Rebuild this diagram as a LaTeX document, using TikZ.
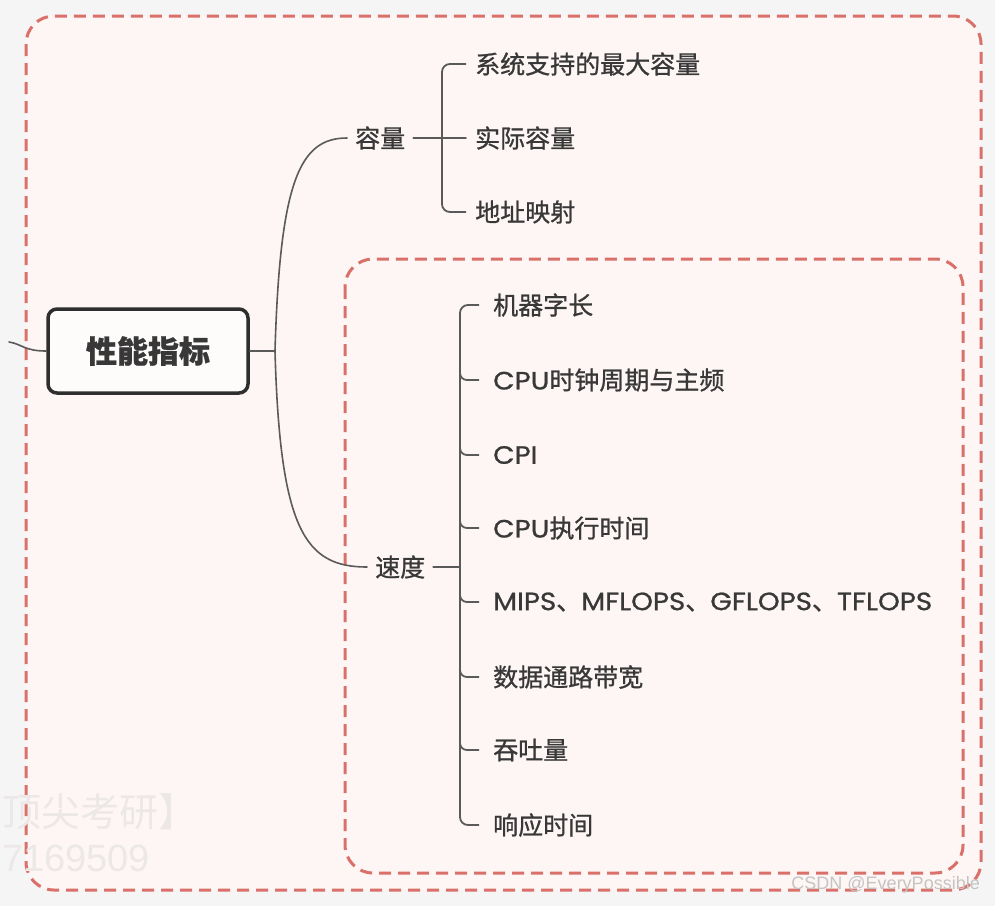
\documentclass[tikz,border=0pt]{standalone}
\usepackage{fontspec}
\setmainfont{Noto Sans CJK SC}[FakeBold=0.9]
\newfontfamily\pop{Poppins}[FakeStretch=1.11, FakeBold=0.9]
\newfontfamily\wmcjk{Noto Sans CJK SC}
\newfontfamily\wmfont{Liberation Sans}
\definecolor{bgc}{HTML}{F5F5F5}
\definecolor{pinkfill}{HTML}{FDF6F4}
\definecolor{dashred}{HTML}{D9706A}
\definecolor{linec}{HTML}{5A5A5A}
\definecolor{txtc}{HTML}{383838}
\definecolor{boxc}{HTML}{2E2E2E}
\definecolor{wmc}{HTML}{C4C4C4}
\definecolor{wmc2}{HTML}{ECE8E8}
\newcommand{\lt}[1]{{\pop #1}}
\tikzset{
  groupbox/.style={draw=dashred, fill=pinkfill, line width=3pt, dash pattern=on 12pt off 7pt, rounded corners=28pt},
  item/.style={anchor=west, inner sep=0pt, font=\fontsize{25}{29}\selectfont, text=txtc},
  midnode/.style={inner sep=0pt, font=\fontsize{25}{29}\selectfont, text=txtc},
  conn/.style={draw=linec, line width=1.6pt, line cap=round},
  brace/.style={draw=linec, line width=1.8pt, rounded corners=8pt},
  tick/.style={draw=linec, line width=1.8pt, rounded corners=7pt},
}
\begin{document}
\begin{tikzpicture}[x=1pt,y=-1pt]
\useasboundingbox (0,0) rectangle (995,906);
\fill[bgc] (0,0) rectangle (995,906);
% group boxes
\draw[groupbox] (26,16) rectangle (981,890);
\draw[groupbox] (345,259) rectangle (963,873);
% faint watermark left
\node[anchor=west, inner sep=0pt, text=wmc2, font=\fontsize{39}{44}\selectfont\wmcjk] (wm1) at (2,812) {顶尖考研】};
\node[anchor=west, inner sep=0pt, text=wmc2, font=\fontsize{38}{44}\selectfont\wmfont] (wm2) at (2,858) {7169509};
% main node
\node[draw=boxc, fill=white!60!pinkfill, line width=3.5pt, rounded corners=9pt, minimum width=200pt, minimum height=84pt, inner sep=0pt, font=\fontsize{31}{36}\selectfont\bfseries, text=txtc] (main) at (148,351) {性能指标};
\coordinate (stub) at (9,342);
\draw[conn] (stub) .. controls (22,344) and (24,351) .. (main.west);
\coordinate (split) at (275,351);
\draw[conn] (main.east) -- (split);
% branch nodes
\node[midnode, anchor=west] (cap) at (355,138) {容量};
\node[midnode, anchor=west] (spd) at (375,567) {速度};
\draw[conn] (split) .. controls (280,180) and (300,138) .. ([xshift=-8pt]cap.west);
\draw[conn] (split) .. controls (280,530) and (305,567) .. ([xshift=-8pt]spd.west);
% capacity items
\node[item] (c1) at (475,64) {系统支持的最大容量};
\node[item] (c2) at (475,138) {实际容量};
\node[item] (c3) at (475,212) {地址映射};
\coordinate (cb) at (442,138);
\draw[conn, line width=2pt] ([xshift=8pt]cap.east) -- (cb);
\draw[brace] ([xshift=-9pt]c1.west) -- (cb |- c1.west) -- (cb |- c3.west) -- ([xshift=-9pt]c3.west);
\draw[conn, line width=1.8pt] (cb) -- ([xshift=-9pt]c2.west);
% speed items
\node[item] (s1) at (493,305) {机器字长};
\node[item] (s2) at (493,380) {\lt{CPU}时钟周期与主频};
\node[item] (s3) at (493,455) {\lt{CPI}};
\node[item] (s4) at (493,528) {\lt{CPU}执行时间};
\node[item] (s5) at (493,602) {\lt{MIPS}、\lt{MFLOPS}、\lt{GFLOPS}、\lt{TFLOPS}};
\node[item] (s6) at (493,677) {数据通路带宽};
\node[item] (s7) at (493,750) {吞吐量};
\node[item] (s8) at (493,825) {响应时间};
\coordinate (sb) at (460,567);
\draw[conn, line width=2.4pt] ([xshift=8pt]spd.east) -- (sb);
\draw[brace] ([xshift=-14pt]s1.west) -- (sb |- s1.west) -- (sb |- s8.west) -- ([xshift=-14pt]s8.west);
\foreach \n in {s2,s3,s4,s5,s6,s7}{
  \draw[tick] ([yshift=12pt]sb |- \n.west) -- (sb |- \n.west) -- ([xshift=-14pt]\n.west);
}
% CSDN watermark
\node[anchor=east, inner sep=0pt, text=wmc, font=\fontsize{18}{20}\selectfont\wmfont] (csdn) at (980,885) {CSDN @EveryPossible};
\end{tikzpicture}
\end{document}
